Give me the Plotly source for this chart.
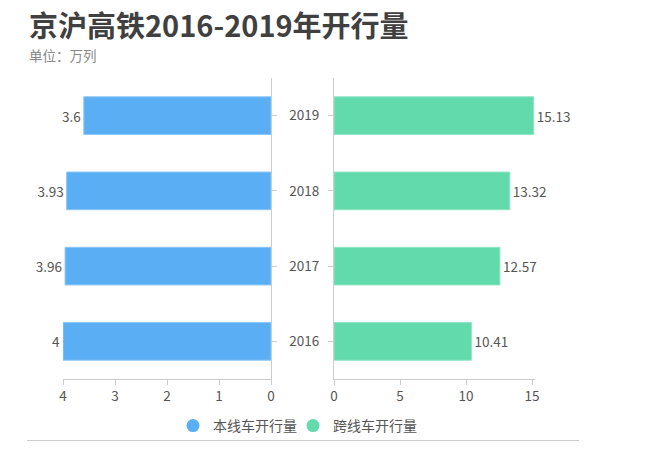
import plotly.graph_objects as go

years = ["2016", "2017", "2018", "2019"]
local_trains = [4, 3.96, 3.93, 3.6]
cross_trains = [10.41, 12.57, 13.32, 15.13]

_W, _H = 663, 450
_OFF = 8  # the page body margin shifts the figure by 8px
_TOP, _BOT = 78, 379  # plot area edges, screen px
_BLUE = "#5AAEF4"
_GREEN = "#62DAAC"
_FONT = "Noto Sans CJK SC, sans-serif"
_TICK = dict(family=_FONT, size=13.5, color="#555555")
_LINE = "#CCCCCC"


def px(x):
    return (x - _OFF) / _W


def py(y):
    # screen row -> paper fraction of the plot area
    return (_BOT - y) / (_BOT - _TOP)


fig = go.Figure()
fig.add_trace(go.Bar(
    y=years, x=local_trains, orientation="h", xaxis="x", yaxis="y",
    marker=dict(color=_BLUE, line=dict(color="#8CC6F7", width=1)),
    width=0.5, text=[str(v) for v in local_trains], textposition="outside",
    textfont=_TICK, cliponaxis=False, showlegend=False, hoverinfo="x+y",
))
fig.add_trace(go.Bar(
    y=years, x=cross_trains, orientation="h", xaxis="x2", yaxis="y2",
    marker=dict(color=_GREEN, line=dict(color="#8FE6C5", width=1)),
    width=0.5, text=[f"{v:.2f}" for v in cross_trains], textposition="outside",
    textfont=_TICK, cliponaxis=False, showlegend=False, hoverinfo="x+y",
))
# legend entries with round markers
fig.add_trace(go.Scatter(x=[None], y=[None], mode="markers", name="本线车开行量",
                         legend="legend",
                         marker=dict(symbol="circle", size=13, color=_BLUE)))
fig.add_trace(go.Scatter(x=[None], y=[None], mode="markers", name="跨线车开行量",
                         legend="legend2",
                         marker=dict(symbol="circle", size=13, color=_GREEN)))

_LEG = dict(orientation="h", xanchor="left", y=py(426), yanchor="middle",
            bgcolor="rgba(0,0,0,0)", borderwidth=0,
            font=dict(family=_FONT, size=14, color="#555555"))

fig.update_layout(
    width=_W, height=_H,
    paper_bgcolor="white", plot_bgcolor="white",
    font=dict(family=_FONT, color="#555555"),
    margin=dict(l=0, r=0, t=_TOP - _OFF, b=_H - (_BOT - _OFF), autoexpand=False),
    bargap=0.5,
    xaxis=dict(domain=[px(63), px(271)], range=[4, 0], anchor="y",
               showgrid=False, zeroline=False, showline=True, linecolor=_LINE,
               ticks="outside", ticklen=5, tickcolor=_LINE, tickfont=_TICK,
               dtick=1, fixedrange=True),
    xaxis2=dict(domain=[px(334), px(334 + 15.2 * 198 / 15)], range=[0, 15.2], anchor="y2",
                showgrid=False, zeroline=False, showline=True, linecolor=_LINE,
                ticks="outside", ticklen=5, tickcolor=_LINE, tickfont=_TICK,
                dtick=5, fixedrange=True),
    yaxis=dict(anchor="x", side="right", type="category", range=[-0.5, 3.5],
               showline=True, linecolor=_LINE, ticks="outside", ticklen=5,
               tickcolor=_LINE, showticklabels=False, showgrid=False),
    yaxis2=dict(anchor="x2", side="left", type="category", range=[-0.5, 3.5],
                showline=True, linecolor=_LINE, ticks="outside", ticklen=5,
                tickcolor=_LINE, tickfont=_TICK, ticklabelstandoff=6,
                showgrid=False),
    legend=dict(_LEG, x=px(173)),
    legend2=dict(_LEG, x=px(293)),
    annotations=[
        dict(text="<b>京沪高铁2016-2019年开行量</b>", xref="paper", yref="paper",
             x=px(27), y=py(24), xanchor="left", yanchor="middle", showarrow=False,
             font=dict(family=_FONT, size=29, color="#404040")),
        dict(text="单位：万列", xref="paper", yref="paper",
             x=px(27), y=py(55), xanchor="left", yanchor="middle", showarrow=False,
             font=dict(family=_FONT, size=13.5, color="#888888")),
    ],
    shapes=[dict(type="line", xref="paper", yref="paper",
                 x0=px(27), x1=px(579), y0=py(440.5), y1=py(440.5),
                 line=dict(color="#CCCCCC", width=1))],
)

fig.write_html("out.html")
